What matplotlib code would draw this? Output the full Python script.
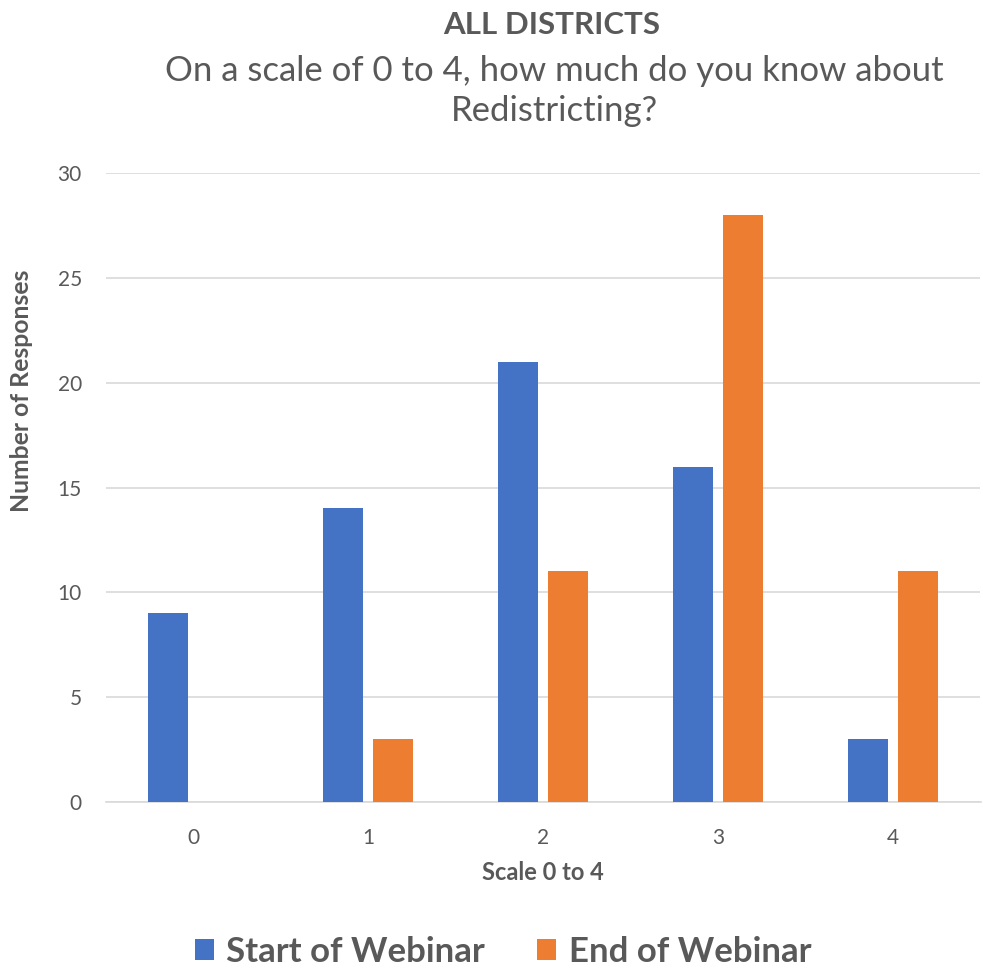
import matplotlib
matplotlib.use("Agg")
import matplotlib.pyplot as plt
import numpy as np
from matplotlib.patches import Patch

categories = ["0", "1", "2", "3", "4"]
start_vals = [9, 14, 21, 16, 3]
end_vals = [0, 3, 11, 28, 11]
series_names = ["Start of Webinar", "End of Webinar"]
yticks = [0, 5, 10, 15, 20, 25, 30]

plt.rcParams['font.family'] = ['Lato', 'DejaVu Sans']
W, H = 983, 971
fig = plt.figure(figsize=(W/100, H/100), dpi=100)
ax = fig.add_axes([105.5/W, 169/H, 875/W, 629/H])

blue = "#4472C4"
orange = "#ED7D31"
grid = "#D9D9D9"
txt = "#595959"

x = np.arange(len(categories))
bw = 0.228
off = 0.143
ax.bar(x - off, start_vals, bw, color=blue, zorder=3)
ax.bar(x + off, end_vals, bw, color=orange, zorder=3)

ax.set_xlim(-0.5, 4.5)
ax.set_ylim(0, 30)
ax.set_yticks(yticks)
ax.set_xticks(x)
ax.set_xticklabels(categories)
ax.yaxis.grid(True, color=grid, linewidth=1.2, zorder=0)
for s in ["top", "right", "left"]:
    ax.spines[s].set_visible(False)
ax.spines["bottom"].set_color(grid)
ax.spines["bottom"].set_linewidth(1.2)
ax.tick_params(axis='both', length=0, labelsize=15, labelcolor=txt)
ax.tick_params(axis='y', pad=17)
ax.tick_params(axis='x', pad=19)

fig.text(543/W, 1 - 872/H, "Scale 0 to 4", ha='center', va='center',
         fontsize=17, fontweight='bold', color=txt)
fig.text(22/W, 1 - 391/H, "Number of Responses", ha='center', va='center',
         rotation=90, fontsize=17.8, fontweight='bold', color=txt)

fig.text(552/W, 1 - 34/H, "ALL DISTRICTS", ha='center', va='baseline',
         fontsize=22.5, fontweight='bold', color=txt)
fig.text(554/W, 1 - 81/H, "On a scale of 0 to 4, how much do you know about",
         ha='center', va='baseline', fontsize=25, color=txt)
fig.text(554/W, 1 - 121/H, "Redistricting?", ha='center', va='baseline',
         fontsize=25, color=txt)

handles = [Patch(facecolor=blue), Patch(facecolor=orange)]
leg = fig.legend(handles, series_names, loc='lower center', bbox_to_anchor=(503/W, 0.0),
                 ncol=2, frameon=False, prop={'size': 25, 'weight': 'bold'},
                 handlelength=0.55, handleheight=0.55, handletextpad=0.36,
                 columnspacing=1.5, borderpad=0, borderaxespad=0.1)
for t in leg.get_texts():
    t.set_color(txt)

fig.savefig("out.png", dpi=100)
